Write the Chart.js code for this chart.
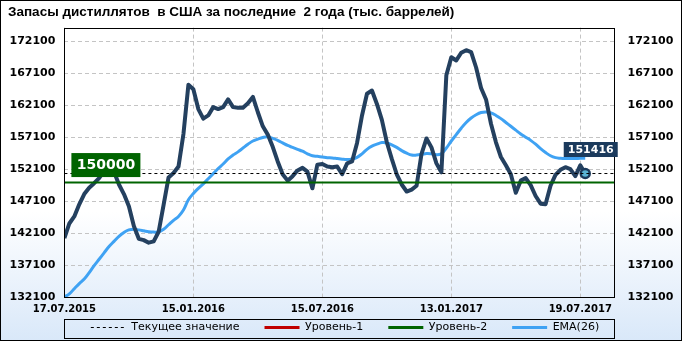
<!DOCTYPE html>
<html>
<head>
<meta charset="utf-8">
<script src="https://cdn.jsdelivr.net/npm/chart.js@4.4.1/dist/chart.umd.min.js"></script>
<style>
body { margin: 0; background: #fff; }
</style>
</head>
<body>
<canvas id="miGrafico" width="682" height="341"></canvas>
<script>
// datos semanales (tys. barrelej)
var fechas = ['17.07.2015', '15.01.2016', '15.07.2016', '13.01.2017', '19.07.2017'];
var posFechas = [0, 26, 52, 78, 104];
var ticksY = [132100, 137100, 142100, 147100, 152100, 157100, 162100, 167100, 172100];

var zapasy = [
	141300, 143600, 144700, 146600, 148200, 149200, 149900, 150700, 151800, 152400,
	151700, 149700, 148200, 146300, 143200, 141200, 141000, 140600, 140800, 142300,
	146500, 150800, 151500, 152500, 157600, 165300, 164600, 161500, 160000, 160500,
	161800, 161500, 161800, 163000, 161800, 161700, 161700, 162400, 163400, 161000,
	158800, 157500, 155600, 153300, 151300, 150300, 151000, 151900, 152300, 151700,
	149100, 152800, 152900, 152500, 152400, 152500, 151300, 153000, 153300, 156200,
	160500, 163900, 164400, 162300, 159800, 156300, 153700, 151300, 149700, 148600,
	148900, 149500, 154500, 156900, 155500, 153000, 151600, 166800, 169600, 169100,
	170300, 170700, 170400, 168000, 164800, 163000, 159200, 156300, 154000, 152700,
	151300, 148400, 150300, 150700, 149600, 147900, 146700, 146600, 149500, 151200,
	152000, 152400, 152100, 151000, 152700, 151416
];

var ema = [
	132100, 132600, 133400, 134200, 134900, 135900, 137000, 138000, 139000, 140000,
	140800, 141600, 142200, 142600, 142700, 142600, 142450, 142300, 142250, 142300,
	142700, 143400, 144100, 144700, 145700, 147300, 148300, 149100, 149800, 150600,
	151400, 152200, 152900, 153700, 154300, 154800, 155400, 156000, 156500, 156800,
	157050, 157150, 156900, 156600, 156200, 155800, 155500, 155200, 154900, 154500,
	154200, 154100, 154000, 153900, 153850, 153750, 153650, 153600, 153700, 153950,
	154500, 155200, 155700, 156000, 156250, 156200, 155900, 155500, 155000, 154600,
	154300, 154300, 154400, 154550, 154500, 154350, 154500, 155400, 156500, 157500,
	158500, 159400, 160100, 160600, 160950, 161050, 160900, 160500, 160000, 159400,
	158800, 158200, 157600, 157100, 156600, 156000, 155300, 154700, 154200, 153900,
	153800, 153750, 153750, 153750, 153800, 153800
];

var tekushee = 151416;
var uroven2 = 150000;
var yMin = 132100;
var yMax = 174240;
var xMax = 110.9;

var puntos = zapasy.map(function (v, i) { return { x: i, y: v }; });
var puntosEma = ema.map(function (v, i) { return { x: i, y: v }; });
var ultimo = zapasy.length - 1;

var fuenteEje = { family: 'DejaVu Sans', size: 11, weight: 'bold' };
var padLeyenda = 25;

// fondo, bordes y etiquetas
var extras = {
	id: 'extras',
	afterLayout: function (chart) {
		// subir la leyenda justo debajo de las fechas
		var lg = chart.legend;
		var h = lg.bottom - lg.top;
		lg.top = 297;
		lg.bottom = lg.top + h;
	},
	beforeDraw: function (chart) {
		var c = chart.ctx;
		var g = c.createLinearGradient(0, 0, 0, chart.height);
		g.addColorStop(0, '#ffffff');
		g.addColorStop(0.62, '#ffffff');
		g.addColorStop(1, '#d9e8f9');
		c.save();
		c.fillStyle = g;
		c.fillRect(0, 0, chart.width, chart.height);
		c.restore();
	},
	afterDatasetsDraw: function (chart) {
		var c = chart.ctx;
		var a = chart.chartArea;
		var ys = chart.scales.y;
		c.save();
		c.strokeStyle = '#000';
		c.lineWidth = 1;
		c.strokeRect(Math.round(a.left) + 0.5, Math.round(a.top) + 0.5, Math.round(a.right - a.left), Math.round(a.bottom - a.top));

		// etiqueta del nivel
		var yl = ys.getPixelForValue(uroven2);
		c.fillStyle = '#006400';
		c.fillRect(a.left + 7, yl - 29.5, 69, 24);
		c.fillStyle = '#fff';
		c.font = 'bold 14px "DejaVu Sans"';
		c.textAlign = 'center';
		c.textBaseline = 'middle';
		c.fillText(String(uroven2), a.left + 41.5, yl - 17);

		// etiqueta del ultimo valor
		var meta = chart.getDatasetMeta(4);
		var p = meta.data[ultimo];
		c.fillStyle = '#1b3a5c';
		c.fillRect(p.x - 21.5, p.y - 31.5, 54, 15);
		c.fillStyle = '#fff';
		c.font = 'bold 11px "DejaVu Sans"';
		c.fillText(String(tekushee), p.x + 5.5, p.y - 23.5);
		c.restore();
	},
	afterDraw: function (chart) {
		var c = chart.ctx;
		var a = chart.chartArea;
		var lg = chart.legend;
		c.save();
		c.strokeStyle = '#000';
		c.lineWidth = 1;
		var cy = lg.top + padLeyenda + 5.5;
		c.strokeRect(Math.round(a.left) + 0.5, Math.round(cy - 9) + 0.5, Math.round(a.right - a.left), 19);
		c.strokeRect(0.5, 0.5, chart.width - 1, chart.height - 1);
		c.restore();
	}
};

var ctx = document.getElementById('miGrafico').getContext('2d');

var chart = new Chart(ctx, {
	type: 'line',
	data: {
		datasets: [{
			label: 'Текущее значение',
			data: [{ x: 0, y: tekushee }, { x: xMax, y: tekushee }],
			borderColor: '#000',
			borderWidth: 1,
			borderDash: [3, 3],
			pointRadius: 0,
			order: 0
		}, {
			label: 'Уровень-1',
			data: [],
			borderColor: '#c00000',
			borderWidth: 3,
			pointRadius: 0,
			order: 0
		}, {
			label: 'Уровень-2',
			data: [{ x: 0, y: uroven2 }, { x: xMax, y: uroven2 }],
			borderColor: '#006400',
			borderWidth: 2,
			pointRadius: 0,
			order: 0
		}, {
			label: 'EMA(26)',
			data: puntosEma,
			borderColor: '#3fa2f3',
			borderWidth: 3,
			pointRadius: 0,
			tension: 0.4,
			order: 2
		}, {
			label: 'Запасы',
			data: puntos,
			borderColor: '#24405f',
			borderWidth: 4,
			borderJoinStyle: 'round',
			tension: 0,
			pointRadius: function (c) { return c.dataIndex === ultimo ? 4.5 : 0; },
			pointBackgroundColor: '#5ab4d4',
			pointBorderColor: '#1b3a5c',
			pointBorderWidth: 2.5,
			order: 1
		}]
	},
	plugins: [extras],
	options: {
		responsive: false,
		animation: false,
		devicePixelRatio: 1,
		layout: { padding: { left: 8, right: 0, top: 0, bottom: -22 } },
		plugins: {
			tooltip: { enabled: false },
			title: {
				display: true,
				text: 'Запасы дистиллятов  в США за последние  2 года (тыс. баррелей)',
				align: 'start',
				color: '#000',
				font: { family: 'Liberation Sans', size: 13.5, weight: 'bold' },
				padding: { top: 4, bottom: 7.4 }
			},
			legend: {
				position: 'bottom',
				labels: {
					color: '#000',
					font: { family: 'DejaVu Sans', size: 11 },
					usePointStyle: true,
					pointStyle: 'line',
					pointStyleWidth: 35,
					padding: padLeyenda,
					filter: function (item) { return item.text !== 'Запасы'; },
					generateLabels: function (chart) {
						var items = Chart.defaults.plugins.legend.labels.generateLabels(chart);
						items.forEach(function (it) {
							var ds = chart.data.datasets[it.datasetIndex];
							it.strokeStyle = ds.borderColor;
							it.lineDash = ds.borderDash || [];
							it.lineWidth = ds.borderDash ? 1 : 3;
						});
						return items;
					}
				}
			}
		},
		scales: {
			x: {
				type: 'linear',
				min: 0,
				max: xMax,
				afterBuildTicks: function (axis) {
					axis.ticks = posFechas.map(function (v) { return { value: v }; });
				},
				afterFit: function (axis) { axis.height = 20; },
				ticks: {
					color: '#000',
					font: { family: 'DejaVu Sans', size: 10, weight: 'bold' },
					padding: 6,
					maxRotation: 0,
					autoSkip: false,
					callback: function (v) { return fechas[posFechas.indexOf(v)]; }
				},
				grid: { color: '#c4c4c4', drawTicks: false },
				border: { display: false, dash: [4, 3] }
			},
			y: {
				position: 'left',
				min: yMin,
				max: yMax,
				afterBuildTicks: function (axis) {
					axis.ticks = ticksY.map(function (v) { return { value: v }; });
				},
				afterFit: function (axis) { axis.width = 56.4; },
				ticks: {
					color: '#000',
					font: fuenteEje,
					padding: 9,
					callback: function (v) { return String(v); }
				},
				grid: { color: '#c4c4c4', drawTicks: false },
				border: { display: false, dash: [4, 3] }
			},
			y2: {
				position: 'right',
				min: yMin,
				max: yMax,
				afterBuildTicks: function (axis) {
					axis.ticks = ticksY.map(function (v) { return { value: v }; });
				},
				afterFit: function (axis) { axis.width = 67.5; },
				ticks: {
					color: '#000',
					font: fuenteEje,
					padding: 13,
					callback: function (v) { return String(v); }
				},
				grid: { display: false, drawTicks: false },
				border: { display: false }
			}
		}
	}
});
</script>
</body>
</html>
